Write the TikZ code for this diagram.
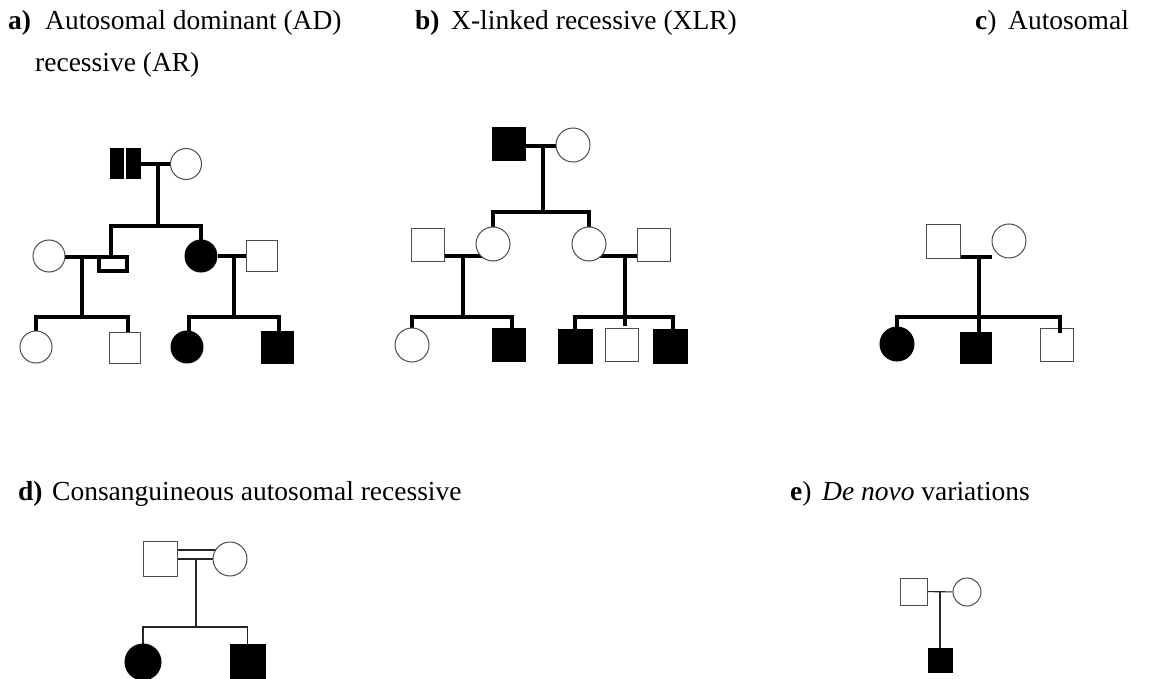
\documentclass[tikz,border=0pt]{standalone}
\usepackage{fontspec}
\setmainfont{Liberation Serif}
\usetikzlibrary{backgrounds}
\begin{document}
\begin{tikzpicture}[x=1pt,y=-1pt,
  txt/.style={anchor=base west, inner sep=0pt, font=\fontsize{27.5}{27.5}\selectfont},
  ind/.style={draw=black!70, line width=1pt, fill=white, inner sep=0pt, minimum size=#1},
  male/.style={ind=#1, rectangle},
  female/.style={ind=#1, circle},
  aff/.style={fill=black, draw=black},
  tie/.style={line width=3.6pt, line cap=butt},
  thin/.style={line width=1.1pt, draw=black!85}
]
\useasboundingbox (0,0) rectangle (1156,679);

% ---------------- headings ----------------
\node[txt] (la) at (8,30) {\textbf{a)}};
\node[txt] (ta) at (45,30) {Autosomal dominant (AD)};
\node[txt] (lb) at (415,30) {\textbf{b)}};
\node[txt] (tb) at (451,30) {X-linked recessive (XLR)};
\node[txt] (lc) at (975,30) {\textbf{c})};
\node[txt] (tc) at (1008,30) {Autosomal};
\node[txt] (tc2) at (35,72) {recessive (AR)};
\node[txt] (ld) at (18,500) {\textbf{d)}};
\node[txt] (td) at (52,500) {Consanguineous autosomal recessive};
\node[txt] (le) at (790,500) {\textbf{e})};
\node[txt] (te) at (822,500) {\textit{De novo} variations};

% ---------------- a) autosomal dominant ----------------
\node[male=30, aff] (a1) at (125,164) {};
\node[female=31] (a2) at (186,164) {};
\node[female=32] (a3) at (49,256) {};
\node[rectangle, draw=black, line width=3.4pt, fill=white, minimum width=28pt, minimum height=14pt, inner sep=0pt] (a4) at (113,264) {};
\node[female=32, aff] (a5) at (201,256) {};
\node[male=31] (a6) at (262,255.5) {};
\node[female=32] (a7) at (36,347) {};
\node[male=31] (a8) at (125,347.5) {};
\node[female=32, aff] (a9) at (187,347) {};
\node[male=32, aff] (a10) at (277,347.5) {};
\draw[white, line width=1.5pt] (a1.north) -- (a1.south);
\coordinate (aj1) at (158,164);
\coordinate (as1) at (158,226);
\coordinate (aj2) at (82,257);
\coordinate (as2) at (82,317);
\coordinate (aj3) at (234,256);
\coordinate (as3) at (234,317);
\begin{scope}[on background layer]
  \draw[tie] (a1) -- (a2);
  \draw[tie] (aj1) -- (as1);
  \draw[tie] ([xshift=-2pt]a4.center) |- (as1) -| (a5);
  \draw[tie] (a3 |- aj2) -- (a4.west |- aj2);
  \draw[tie] (aj2) -- (as2);
  \draw[tie] (a7) |- (as2) -| ([xshift=3pt]a8.center);
  \draw[tie] (a5) -- (a6 |- a5);
  \draw[tie] (aj3) -- (as3);
  \draw[tie] ([xshift=2pt]a9.center) |- (as3) -| ([xshift=2pt]a10.center);
\end{scope}

% ---------------- b) X-linked recessive ----------------
\node[male=33, aff] (b1) at (509,144.5) {};
\node[female=34] (b2) at (573,145) {};
\node[female=34] (b3) at (493,244) {};
\node[female=34] (b4) at (589,244) {};
\node[male=33] (b5) at (428,245) {};
\node[male=33] (b11) at (654,245) {};
\node[female=34] (b6) at (412,345) {};
\node[male=33, aff] (b7) at (509,345) {};
\node[male=34, aff] (b8) at (575,346) {};
\node[male=33] (b9) at (622,345) {};
\node[male=34, aff] (b10) at (670,346) {};
\coordinate (bj1) at (543,146);
\coordinate (bs1) at (543,212);
\coordinate (bj2) at (463,256);
\coordinate (bs2) at (463,317);
\coordinate (bj3) at (625,256);
\coordinate (bs3) at (625,317);
\begin{scope}[on background layer]
  \draw[tie] (b1 |- bj1) -- (b2 |- bj1);
  \draw[tie] (bj1) -- (bs1);
  \draw[tie] (b3) |- (bs1) -| (b4);
  \draw[tie] (b5 |- bj2) -- (b3 |- bj2);
  \draw[tie] (bj2) -- (bs2);
  \draw[tie] (b6) |- (bs2) -| ([xshift=3pt]b7.center);
  \draw[tie] (b4 |- bj3) -- (b11 |- bj3);
  \draw[tie] (bj3) -- (bs3);
  \draw[tie] (b8) |- (bs3) -| ([xshift=3pt]b10.center);
\end{scope}
\draw[tie] (bs3) -- ([yshift=2pt]bs3 |- b9.north);

% ---------------- c) autosomal recessive ----------------
\node[male=34] (c1) at (943.5,241.5) {};
\node[female=34] (c2) at (1009,241) {};
\node[female=34, aff] (c3) at (897,344) {};
\node[male=31, aff] (c4) at (975.5,347.5) {};
\node[male=33] (c5) at (1057,344.5) {};
\coordinate (cj) at (979,257);
\coordinate (cm) at (992,257);
\coordinate (cs) at (979,317);
\begin{scope}[on background layer]
  \draw[tie] (c1 |- cj) -- (cm);
  \draw[tie] (cj) -- (cs) -- (cs |- c4);
  \draw[tie] (c3) |- (cs) -| ([xshift=3pt]c5.center);
\end{scope}
\draw[tie] ([xshift=3pt]c5.north) -- ++(0,5);

% ---------------- d) consanguineous ----------------
\node[male=34.5] (d1) at (160.5,559) {};
\node[female=34] (d2) at (230,559) {};
\node[female=36, aff] (d3) at (143,662) {};
\node[male=35, aff] (d4) at (247.5,662) {};
\coordinate (dj) at (196,559);
\coordinate (dk) at (196,550);
\coordinate (ds) at (196,627);
\begin{scope}[on background layer]
  \draw[thin] (d1 |- dk) -- (d2 |- dk);
  \draw[thin] (d1 |- dj) -- (d2 |- dj);
  \draw[thin] (dj) -- (ds);
  \draw[thin] (d3) |- (ds) -| (d4);
\end{scope}

% ---------------- e) de novo ----------------
\node[male=27] (e1) at (913.5,591.5) {};
\node[female=28] (e2) at (967,592) {};
\node[male=24, aff] (e3) at (940,660) {};
\coordinate (ej) at (940,592);
\begin{scope}[on background layer]
  \draw[thin] (e1) -- (e2);
  \draw[thin] (ej) -- (e3);
\end{scope}
\end{tikzpicture}
\end{document}
